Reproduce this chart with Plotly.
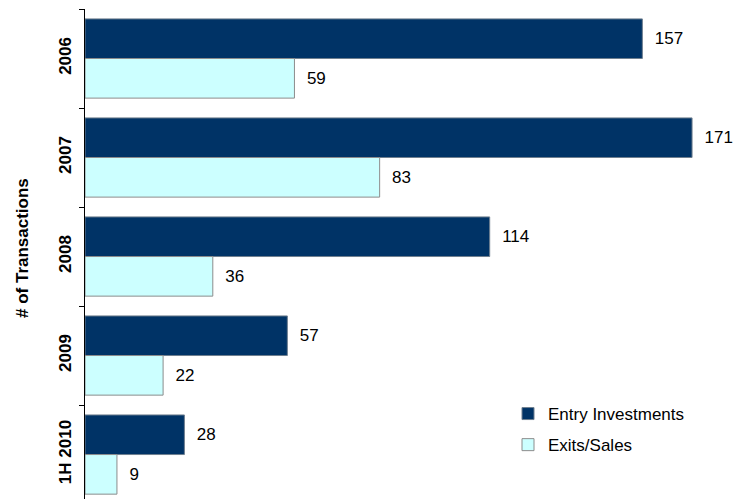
import plotly.graph_objects as go

categories = ["2006", "2007", "2008", "2009", "1H 2010"]
entry_investments = [157, 171, 114, 57, 28]
exits_sales = [59, 83, 36, 22, 9]

NAVY = "#003366"
LIGHT = "#CCFFFF"
FONT = "Liberation Sans, Arial, sans-serif"

fig = go.Figure()
fig.add_trace(go.Bar(
    y=categories, x=entry_investments, orientation="h", name="Entry Investments",
    marker=dict(color=NAVY, line=dict(color="#6F7F8F", width=1)),
    text=entry_investments, texttemplate="  %{x}", textposition="outside",
    textfont=dict(family=FONT, size=17, color="black"), cliponaxis=False,
    legendgroup="a",
))
fig.add_trace(go.Bar(
    y=categories, x=exits_sales, orientation="h", name="Exits/Sales",
    marker=dict(color=LIGHT, line=dict(color="#8C8C8C", width=1)),
    text=exits_sales, texttemplate="  %{x}", textposition="outside",
    textfont=dict(family=FONT, size=17, color="black"), cliponaxis=False,
    legendgroup="b",
))

fig.update_layout(
    width=747, height=499,
    margin=dict(l=85, r=0, t=9, b=0, autoexpand=False),
    paper_bgcolor="white", plot_bgcolor="white",
    barmode="group", bargap=0.2, bargroupgap=0,
    font=dict(family=FONT, size=17, color="black"),
    showlegend=True,
    legend=dict(
        x=(508 - 85) / 662, xanchor="left", y=(499 - 396) / 490, yanchor="top",
        font=dict(family=FONT, size=17, color="black"),
        bgcolor="rgba(0,0,0,0)", tracegroupgap=6, traceorder="grouped",
    ),
    xaxis=dict(visible=False, range=[0, 662 / 3.55], showgrid=False, zeroline=False,
               automargin=False),
    yaxis=dict(
        type="category", categoryorder="array", categoryarray=categories,
        range=[4.449, -0.5], automargin=False,
        showline=True, linecolor="black", linewidth=1,
        ticks="outside", tickson="boundaries", ticklen=5, tickcolor="black",
        tickangle=-90, ticklabelstandoff=6,
        tickfont=dict(family=FONT, size=17, color="black", weight="bold"),
        showgrid=False, zeroline=False,
    ),
    annotations=[dict(
        text="<b># of Transactions</b>", textangle=-90,
        xref="paper", yref="paper", x=(23 - 85) / 662, y=(499 - 248) / 490,
        xanchor="center", yanchor="middle", showarrow=False,
        font=dict(family=FONT, size=17, color="black"),
    )],
)

fig.write_html("out.html", config={"displayModeBar": False},
               post_script="document.body.style.margin='0';")
